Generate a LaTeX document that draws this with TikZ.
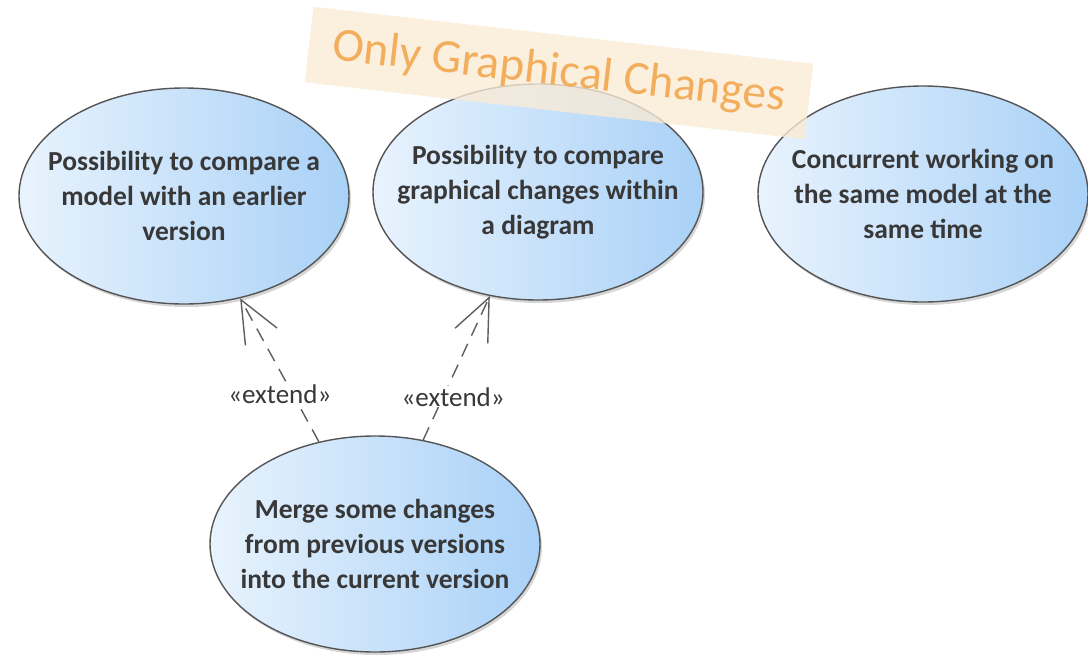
\documentclass[tikz,border=0pt]{standalone}
\usepackage{fontspec}
\setmainfont{Carlito}
\usetikzlibrary{shapes.geometric,arrows.meta,shadows}
\definecolor{edgecol}{HTML}{555555}
\definecolor{fillL}{HTML}{E8F3FD}
\definecolor{fillM}{HTML}{D8EAFB}
\definecolor{fillR}{HTML}{A9D1F7}
\definecolor{txtcol}{HTML}{383838}
\definecolor{bannerfill}{HTML}{FBEBD5}
\definecolor{bannertxt}{HTML}{F2AE5C}
\definecolor{conncol}{HTML}{5E5E5E}
\tikzset{
  usecase/.style={ellipse, draw=edgecol, line width=1.4pt,
    left color=fillL, middle color=fillM, right color=fillR,
    minimum width=330pt, minimum height=216pt, inner sep=0pt,
    label={[align=center, text=txtcol, inner sep=0pt,
      font=\bfseries\fontsize{27.5}{35}\selectfont]center:#1}},
  ucshadow/.style={ellipse, fill=black, fill opacity=0.16,
    minimum width=330pt, minimum height=216pt, inner sep=0pt},
  banner/.style={rotate=-6.5, minimum width=503pt, minimum height=76pt,
    inner sep=0pt, fill=bannerfill, fill opacity=0.78, text opacity=1,
    text=bannertxt, font=\fontsize{47.5}{52}\selectfont},
  extarrow/.style={draw=conncol, line width=1.4pt, dash pattern=on 14pt off 9pt,
    -{Straight Barb[length=42pt,width=36pt,line width=1.4pt]}},
  lbl/.style={fill=white, inner sep=1pt, text=txtcol,
    font=\fontsize{27}{30}\selectfont}
}
\begin{document}
\begin{tikzpicture}[x=1pt,y=-1pt]
\useasboundingbox (0,0) rectangle (1088,657);
\fill[white] (0,0) rectangle (1088,657);
% shadows
\node[ucshadow] (s1) at (186,199) {};
\node[ucshadow] (s2) at (540,195) {};
\node[ucshadow] (s3) at (925,197) {};
\node[ucshadow] (s4) at (377,547) {};
% use cases
\node[usecase={Possibility to compare a\\model with an earlier\\version}] (e1) at (184,196) {};
\node[usecase={Possibility to compare\\graphical changes within\\a diagram}] (e2) at (538,192) {};
\node[usecase={Concurrent working on\\the same model at the\\same time}] (e3) at (923,194) {};
\node[usecase={Merge some changes\\from previous versions\\into the current version}] (m) at (375,544) {};
% extend relations
\draw[extarrow] (m) -- node[lbl, pos=0.33, xshift=-13pt] {«extend»} (e1);
\draw[extarrow] (m) -- node[lbl, pos=0.30, xshift=10pt] {«extend»} (e2);
% banner
\node[banner] (ban) at (559,73) {Only Graphical Changes};
\end{tikzpicture}
\end{document}
